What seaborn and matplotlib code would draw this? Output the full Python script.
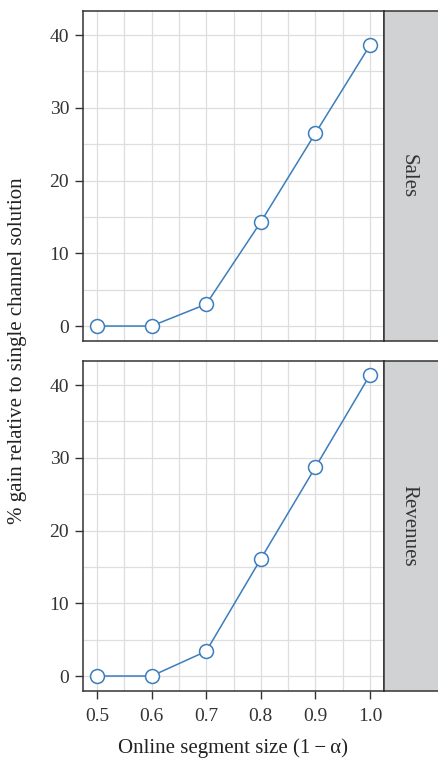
import numpy as np
import pandas as pd
import matplotlib
matplotlib.use("Agg")
import matplotlib.pyplot as plt
import seaborn as sns
from matplotlib.patches import Rectangle

# data
segment_size = [0.5, 0.6, 0.7, 0.8, 0.9, 1.0]
sales_gain = [0.0, 0.0, 3.0, 14.3, 26.5, 38.6]
revenue_gain = [0.0, 0.0, 3.4, 16.1, 28.7, 41.4]
panels = ["Sales", "Revenues"]

df = pd.DataFrame({
    "size": segment_size * 2,
    "gain": sales_gain + revenue_gain,
    "measure": ["Sales"] * 6 + ["Revenues"] * 6,
})

sns.set_style("white")
plt.rcParams["font.family"] = ["Liberation Serif", "DejaVu Serif"]

W, H = 439, 763
fig = plt.figure(figsize=(W / 100, H / 100), dpi=100)

line_col = "#3b7dbd"
strip_col = "#d1d2d4"
grid_col = "#dedede"

# panel boxes in pixel coords (left, top, right, bottom)
boxes = {"Sales": (83, 11, 384, 341), "Revenues": (83, 361, 384, 691)}
strip_right = 445

for name in panels:
    l, t, r, b = boxes[name]
    ax = fig.add_axes([l / W, 1 - b / H, (r - l) / W, (b - t) / H])
    sub = df[df["measure"] == name]
    sns.lineplot(data=sub, x="size", y="gain", ax=ax, color=line_col, lw=1.1,
                 marker="o", markersize=10, markerfacecolor="white",
                 markeredgecolor=line_col, markeredgewidth=1.1, zorder=3)
    ax.set_xticks(np.arange(0.5, 1.001, 0.05), minor=True)
    ax.set_yticks(np.arange(0, 41, 5), minor=True)
    ax.grid(True, which="both", color=grid_col, lw=0.9, zorder=0)
    ax.set_yticks([0, 10, 20, 30, 40])
    ax.set_xticks([0.5, 0.6, 0.7, 0.8, 0.9, 1.0])
    ax.set_xlim(0.4744, 1.0256)
    ax.set_ylim(-2.06, 43.3)
    ax.tick_params(axis="y", which="major", left=True, length=6, width=1,
                   labelsize=14, color="#333333", labelcolor="#333333", pad=4)
    ax.tick_params(axis="both", which="minor", length=0)
    if name == "Revenues":
        ax.tick_params(axis="x", which="major", bottom=True, length=6, width=1,
                       labelsize=14, color="#333333", labelcolor="#333333", pad=6)
        ax.set_xticklabels(["0.5", "0.6", "0.7", "0.8", "0.9", "1.0"])
    else:
        ax.tick_params(axis="x", which="major", bottom=False, labelbottom=False)
    ax.set_xlabel("")
    ax.set_ylabel("")
    for s in ax.spines.values():
        s.set_color("#333333")
        s.set_linewidth(1.1)

    # strip on the right
    sax = fig.add_axes([r / W, 1 - b / H, (strip_right - r) / W, (b - t) / H])
    sax.add_patch(Rectangle((0, 0), 1, 1, transform=sax.transAxes,
                            facecolor=strip_col, edgecolor="none"))
    sax.set_xticks([])
    sax.set_yticks([])
    for s in sax.spines.values():
        s.set_color("#333333")
        s.set_linewidth(1.1)
    sax.text(0.4, 0.5, name, rotation=-90, ha="center", va="center",
             fontsize=15, color="#333333", transform=sax.transAxes)

fig.text(233 / W, 1 - 748 / H, "Online segment size (1\u2009\u2212\u2009\u03b1)", ha="center",
         va="center", fontsize=15, color="#222222")
fig.text(18 / W, 1 - 351 / H, "% gain relative to single channel solution",
         rotation=90, ha="center", va="center", fontsize=15, color="#222222")

fig.savefig("out.png", dpi=100)
